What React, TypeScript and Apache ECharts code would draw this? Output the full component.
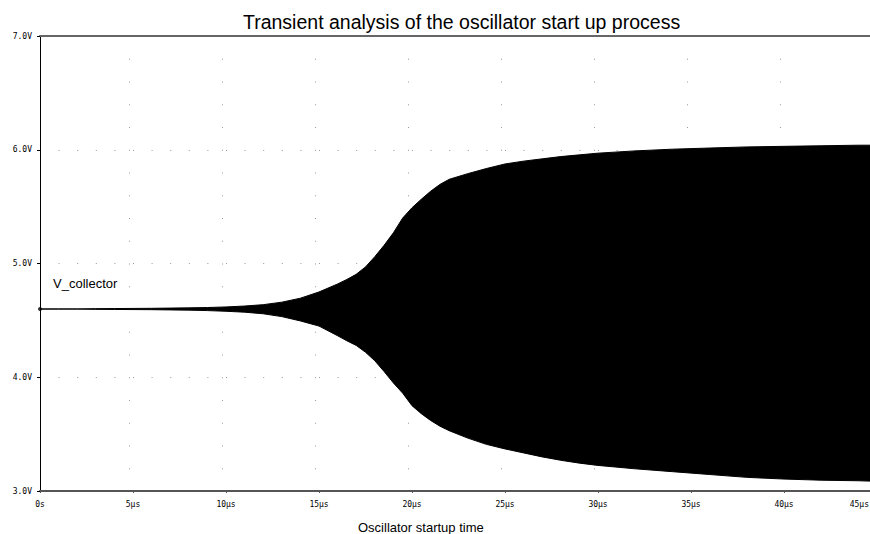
import React, { useEffect, useRef } from "react";
import * as echarts from "echarts";

const TITLE = "Transient analysis of the oscillator start up process";
const X_NAME = "Oscillator startup time";
const SERIES_NAME = "V_collector";

// time in microseconds
const timesUs = [
  0, 1, 2, 3, 4, 5, 6, 7, 8, 9, 10, 11, 12, 13, 14, 15, 16, 16.5, 17, 17.5, 18, 18.5, 19,
  19.5, 20, 20.5, 21, 21.5, 22, 23, 24, 25, 26, 27, 28, 29, 30, 32, 34, 36, 38, 40, 42, 44, 45,
];
// upper envelope of V_collector (V)
const upperV = [
  4.6, 4.6, 4.6, 4.603, 4.604, 4.605, 4.606, 4.608, 4.61, 4.613, 4.618, 4.626, 4.638, 4.66,
  4.695, 4.75, 4.82, 4.86, 4.905, 4.97, 5.06, 5.16, 5.27, 5.4, 5.49, 5.565, 5.635, 5.695, 5.74,
  5.79, 5.835, 5.875, 5.9, 5.92, 5.94, 5.955, 5.97, 5.99, 6.005, 6.015, 6.025, 6.03, 6.035,
  6.04, 6.04,
];
// lower envelope of V_collector (V)
const lowerV = [
  4.6, 4.6, 4.6, 4.597, 4.596, 4.595, 4.594, 4.592, 4.59, 4.586, 4.58, 4.572, 4.558, 4.533,
  4.495, 4.45, 4.365, 4.32, 4.28, 4.22, 4.145, 4.05, 3.95, 3.86, 3.75, 3.68, 3.62, 3.57, 3.53,
  3.465, 3.41, 3.37, 3.335, 3.3, 3.27, 3.245, 3.225, 3.195, 3.17, 3.145, 3.12, 3.105, 3.095,
  3.09, 3.085,
];

const yMin = 3;
const yMax = 7;
const yStep = 1;
const xMin = 0;
const xMax = 45;
const xStep = 5;

export default function App() {
  const ref = useRef<HTMLDivElement>(null);

  useEffect(() => {
    if (!ref.current) return;
    const chart = echarts.init(ref.current, null, { renderer: "svg" });

    const envData = timesUs.map((t, i) => [t, upperV[i], lowerV[i]]);

    const tickFont = {
      fontFamily: "DejaVu Sans Mono",
      fontSize: 8,
      color: "#000",
    };

    chart.setOption({
      animation: false,
      backgroundColor: "#fff",
      title: {
        text: TITLE,
        left: 243,
        top: 12,
        padding: 0,
        textStyle: {
          fontFamily: "Liberation Sans",
          fontSize: 19.5,
          fontWeight: "normal",
          color: "#000",
        },
      },
      grid: {
        left: 40,
        right: -7,
        top: 36,
        bottom: 43,
        containLabel: false,
        outerBoundsMode: "none",
      },
      xAxis: [
        {
          type: "value",
          min: xMin,
          max: xMax,
          interval: xStep,
          position: "bottom",
          axisLine: { show: true, lineStyle: { color: "#555", width: 2 } },
          axisTick: { show: true, length: 2, lineStyle: { color: "#555" } },
          axisLabel: {
            ...tickFont,
            margin: 9,
            alignMaxLabel: "right",
            formatter: (v: number) =>
              v === 0 ? "0s" : v === xMax ? `{last|${v}µs}` : `${v}µs`,
            rich: {
              last: { ...tickFont, padding: [0, 8, 0, 0] },
            },
          },
          splitLine: { show: false },
        },
        {
          type: "value",
          min: xMin + 0.215,
          max: xMax + 0.215,
          splitNumber: 9,
          position: "top",
          axisLine: { show: true, onZero: false, lineStyle: { color: "#666", width: 2 } },
          axisTick: { show: false },
          axisLabel: { show: false },
          splitLine: {
            show: true,
            lineStyle: { color: "#9a9a9a", width: 1, type: [1, 21.75] },
          },
        },
      ],
      yAxis: {
        type: "value",
        min: yMin,
        max: yMax,
        interval: yStep,
        axisLine: { show: true, lineStyle: { color: "#000", width: 1 } },
        axisTick: { show: true, length: 3, lineStyle: { color: "#000" } },
        axisLabel: {
          ...tickFont,
          margin: 8,
          formatter: (v: number) => `${v.toFixed(1)}V`,
        },
        splitLine: {
          show: true,
          lineStyle: { color: "#9a9a9a", width: 1, type: [1, 17.6] },
        },
      },
      series: [
        {
          name: SERIES_NAME,
          type: "custom",
          xAxisIndex: 0,
          yAxisIndex: 0,
          data: envData,
          encode: { x: 0, y: [1, 2] },
          renderItem: (params: any, api: any) => {
            if (params.dataIndex !== 0) return null;
            const top = envData.map((d) => api.coord([d[0], d[1]]));
            const bottom = envData
              .slice()
              .reverse()
              .map((d) => api.coord([d[0], d[2]]));
            return {
              type: "polygon",
              shape: { points: top.concat(bottom) },
              style: { fill: "#000", stroke: "#000", lineWidth: 1 },
            };
          },
          z: 3,
        },
        {
          name: SERIES_NAME + " start",
          type: "scatter",
          data: [[timesUs[0], upperV[0]]],
          symbolSize: 4,
          itemStyle: { color: "#000" },
          z: 4,
        },
      ],
      graphic: [
        {
          type: "text",
          left: 53,
          top: 277,
          style: {
            text: SERIES_NAME,
            fontFamily: "Liberation Sans",
            fontSize: 13,
            fill: "#000",
          },
        },
        {
          type: "text",
          left: 358,
          top: 521,
          style: {
            text: X_NAME,
            fontFamily: "Liberation Sans",
            fontSize: 13,
            fill: "#000",
          },
        },
      ],
    });

    return () => chart.dispose();
  }, []);

  return (
    <div
      ref={ref}
      style={{ position: "fixed", left: 0, top: 0, width: 870, height: 534 }}
    />
  );
}
